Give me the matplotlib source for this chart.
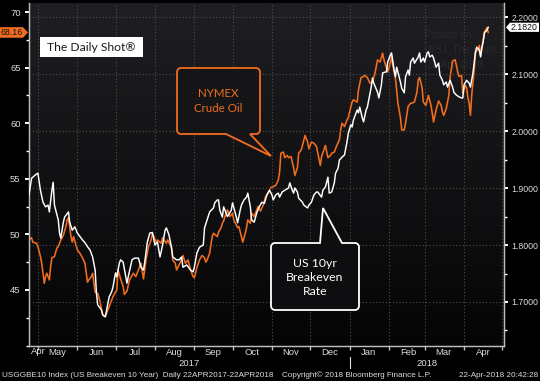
import numpy as np
import pandas as pd
import matplotlib
matplotlib.use("Agg")
import matplotlib.pyplot as plt
import matplotlib.transforms as mtransforms
from matplotlib.colors import LinearSegmentedColormap
from matplotlib.path import Path
from matplotlib.patches import PathPatch, Rectangle, Polygon
from matplotlib.lines import Line2D
from matplotlib.ticker import NullFormatter, FormatStrFormatter

plt.rcParams["font.family"] = ["Liberation Sans", "DejaVu Sans"]

START = pd.Timestamp("2017-04-24")

# US 10yr breakeven (right axis): days since START, value
be_days = [0, 2, 5, 7, 9, 11, 13, 15, 16, 18, 19, 20, 23, 24, 25, 27, 28, 31, 32, 34,
           36, 38, 42, 44, 46, 48, 50, 52, 53, 54, 57, 58, 60, 61, 63, 65, 66, 68, 69, 71,
           72, 74, 77, 78, 81, 83, 86, 88, 90, 91, 93, 95, 97, 99, 101, 103, 105, 107, 108, 110,
           112, 113, 116, 118, 120, 121, 124, 127, 129, 130, 132, 134, 137, 138, 140, 142, 145, 146, 148, 149,
           150, 152, 153, 156, 159, 160, 163, 164, 166, 167, 169, 171, 172, 174, 175, 177, 179, 181, 183, 185,
           187, 189, 191, 192, 194, 196, 197, 199, 201, 204, 205, 207, 208, 209, 211, 212, 215, 216, 219, 220,
           222, 224, 226, 227, 230, 231, 233, 235, 236, 238, 240, 241, 243, 244, 246, 248, 250, 251, 253, 254,
           255, 258, 259, 260, 262, 263, 265, 266, 269, 270, 271, 274, 275, 277, 278, 281, 282, 284, 285, 287,
           288, 289, 292, 293, 295, 296, 298, 299, 300, 302, 303, 306, 307, 308, 310, 311, 313, 314, 315, 317,
           318, 320, 322, 323, 325, 326, 328, 329, 331, 333, 334, 336, 338, 340, 341, 342, 344, 346, 347, 349,
           351, 352, 354, 355, 356, 357, 358, 360, 361]
be_vals = [1.888, 1.917, 1.923, 1.926, 1.896, 1.875, 1.867, 1.870, 1.858, 1.896, 1.910, 1.870, 1.844, 1.821, 1.812, 1.840, 1.849, 1.858, 1.840, 1.826,
           1.832, 1.821, 1.809, 1.804, 1.797, 1.791, 1.779, 1.756, 1.716, 1.695, 1.686, 1.677, 1.674, 1.686, 1.709, 1.718, 1.726, 1.751, 1.744, 1.768,
           1.774, 1.770, 1.733, 1.744, 1.774, 1.777, 1.777, 1.761, 1.756, 1.770, 1.805, 1.821, 1.822, 1.800, 1.805, 1.779, 1.800, 1.826, 1.830, 1.818,
           1.796, 1.779, 1.774, 1.774, 1.779, 1.761, 1.765, 1.756, 1.753, 1.761, 1.786, 1.796, 1.800, 1.830, 1.844, 1.858, 1.865, 1.874, 1.879, 1.879,
           1.861, 1.849, 1.867, 1.850, 1.861, 1.874, 1.849, 1.839, 1.861, 1.870, 1.879, 1.884, 1.891, 1.867, 1.844, 1.840, 1.856, 1.867, 1.875, 1.873,
           1.888, 1.896, 1.888, 1.879, 1.888, 1.891, 1.884, 1.893, 1.896, 1.900, 1.909, 1.896, 1.891, 1.900, 1.893, 1.882, 1.875, 1.870, 1.865, 1.870,
           1.875, 1.888, 1.893, 1.893, 1.884, 1.896, 1.902, 1.919, 1.891, 1.893, 1.909, 1.926, 1.935, 1.949, 1.954, 1.958, 1.981, 1.996, 2.011, 2.007,
           2.019, 2.037, 2.032, 2.042, 2.023, 2.016, 2.037, 2.042, 2.077, 2.093, 2.084, 2.068, 2.058, 2.081, 2.102, 2.104, 2.121, 2.133, 2.137, 2.107,
           2.095, 2.112, 2.086, 2.075, 2.067, 2.095, 2.107, 2.098, 2.121, 2.128, 2.119, 2.130, 2.137, 2.121, 2.128, 2.121, 2.137, 2.139, 2.130, 2.133,
           2.128, 2.112, 2.119, 2.098, 2.089, 2.081, 2.086, 2.077, 2.089, 2.077, 2.068, 2.063, 2.060, 2.058, 2.058, 2.081, 2.089, 2.084, 2.077, 2.102,
           2.139, 2.147, 2.142, 2.130, 2.146, 2.156, 2.172, 2.177, 2.182]

# NYMEX crude oil (left axis): days since START, value
oil_days = [0, 2, 3, 6, 7, 9, 10, 12, 13, 14, 16, 17, 18, 20, 22, 23, 25, 27, 29, 30,
            31, 33, 34, 35, 38, 40, 42, 44, 46, 47, 49, 50, 52, 54, 56, 57, 58, 60, 62, 64,
            66, 69, 70, 72, 74, 75, 77, 79, 82, 84, 86, 88, 90, 92, 94, 96, 97, 100, 101, 104,
            105, 108, 109, 112, 113, 115, 116, 119, 121, 123, 125, 127, 129, 130, 132, 134, 136, 138, 139, 140,
            142, 144, 145, 148, 149, 151, 152, 153, 154, 156, 158, 160, 161, 164, 165, 167, 168, 170, 171, 172,
            174, 175, 177, 179, 180, 182, 184, 186, 188, 190, 192, 194, 196, 197, 198, 200, 201, 203, 204, 206,
            208, 209, 211, 212, 214, 215, 217, 219, 220, 222, 224, 226, 229, 230, 233, 235, 237, 238, 240, 242,
            244, 245, 246, 248, 250, 251, 252, 254, 255, 258, 259, 261, 263, 264, 266, 268, 270, 272, 274, 276,
            278, 279, 281, 282, 284, 285, 286, 288, 289, 290, 292, 293, 295, 296, 298, 300, 301, 303, 305, 306,
            307, 309, 310, 312, 314, 316, 317, 318, 320, 322, 324, 325, 326, 328, 329, 330, 331, 333, 335, 336,
            337, 338, 340, 341, 343, 344, 345, 346, 347, 348, 350, 351, 353, 354, 355, 356, 358, 360, 361]
oil_vals = [49.5, 49.7, 49.3, 49.2, 48.9, 48.0, 47.4, 45.6, 46.2, 46.5, 45.9, 47.1, 47.9, 48.0, 48.8, 48.9, 49.5, 49.9, 50.7, 51.3,
            51.5, 49.8, 49.3, 49.8, 48.6, 48.3, 47.9, 47.4, 45.7, 45.9, 46.2, 46.5, 44.8, 44.7, 43.9, 43.2, 42.75, 42.6, 43.2, 43.8,
            44.4, 45.0, 46.8, 46.0, 45.3, 44.6, 44.9, 45.9, 46.5, 46.2, 46.8, 47.4, 46.0, 47.7, 48.9, 49.5, 50.1, 49.3, 49.5, 49.2,
            49.7, 49.2, 49.5, 48.8, 47.7, 47.4, 46.8, 47.5, 48.1, 47.4, 47.7, 46.8, 46.2, 46.1, 47.0, 47.7, 48.1, 47.9, 47.5, 47.7,
            48.3, 49.8, 50.1, 49.8, 50.2, 50.6, 51.0, 51.2, 51.6, 52.2, 51.6, 51.9, 51.3, 50.6, 50.7, 49.8, 49.3, 50.1, 50.6, 51.3,
            51.0, 51.9, 51.6, 52.2, 52.5, 52.1, 52.6, 53.4, 53.7, 54.2, 54.3, 54.4, 54.9, 55.6, 57.3, 57.4, 56.9, 57.1, 56.9, 57.0,
            56.0, 55.3, 56.0, 57.3, 57.6, 58.0, 58.9, 58.3, 57.7, 58.3, 58.2, 57.9, 56.2, 57.0, 58.0, 56.9, 57.1, 57.3, 57.4, 58.0,
            58.5, 59.4, 60.0, 59.7, 60.3, 60.5, 61.0, 61.9, 62.1, 61.9, 63.0, 64.1, 64.2, 64.3, 64.1, 63.6, 63.7, 64.5, 65.7, 65.5,
            66.3, 65.7, 65.0, 64.6, 65.4, 66.0, 65.2, 64.1, 63.0, 61.8, 60.5, 59.4, 59.4, 60.0, 61.5, 61.8, 61.8, 61.9, 62.8, 63.9,
            64.1, 63.2, 61.9, 61.6, 62.5, 61.6, 60.9, 60.1, 61.2, 62.0, 61.6, 61.0, 60.7, 61.3, 61.9, 62.5, 64.1, 65.6, 65.7, 65.2,
            64.6, 64.2, 64.3, 62.7, 63.4, 63.2, 62.3, 61.8, 60.7, 62.5, 64.8, 66.4, 66.6, 67.0, 66.1, 66.8, 68.2, 68.6, 68.16]

month_starts = ["2017-05-01", "2017-06-01", "2017-07-01", "2017-08-01", "2017-09-01", "2017-10-01",
                "2017-11-01", "2017-12-01", "2018-01-01", "2018-02-01", "2018-03-01", "2018-04-01",
                "2018-05-01"]
month_mids = ["2017-05-16", "2017-06-16", "2017-07-16", "2017-08-16", "2017-09-16", "2017-10-16",
              "2017-11-16", "2017-12-16", "2018-01-16", "2018-02-16", "2018-03-16", "2018-04-16"]
month_labels = ["May", "Jun", "Jul", "Aug", "Sep", "Oct", "Nov", "Dec", "Jan", "Feb", "Mar", "Apr"]
oil_ticks = [45, 50, 55, 60, 65, 70]
be_ticks = [1.7, 1.8, 1.9, 2.0, 2.1, 2.2]

ORANGE = "#f26d1f"
TEXT = "#dcdcdc"
GRID = "#4f4f4f"
SPINE = "#bdbdbd"
TICK_FS = 6.3    # right-axis labels and value tags (tight space)
AXIS_FS = 6.8    # months, years, left-axis labels
FOOT_FS = 5.9
W, H = 540, 381


def px(x, y):
    """figure pixel (y down) -> figure fraction"""
    return x / W, 1 - y / H


def callout(fig, x0, y0, x1, y1, wedge, edge, ec, fc, r=4):
    def arc(cx, cy, a0, a1):
        t = np.radians(np.linspace(a0, a1, 6))
        return [(cx + r * np.cos(a), cy + r * np.sin(a)) for a in t]
    pts = arc(x0 + r, y0 + r, 180, 270)
    if edge == "top":
        pts += wedge
    pts += arc(x1 - r, y0 + r, 270, 360)
    pts += arc(x1 - r, y1 - r, 0, 90)
    if edge == "bottom":
        pts += wedge
    pts += arc(x0 + r, y1 - r, 90, 180)
    verts = [px(x, y) for x, y in pts]
    verts.append(verts[0])
    codes = [Path.MOVETO] + [Path.LINETO] * (len(verts) - 2) + [Path.CLOSEPOLY]
    fig.add_artist(PathPatch(Path(verts, codes), transform=fig.transFigure,
                             facecolor=fc, edgecolor=ec, lw=1.3, zorder=5))


fig = plt.figure(figsize=(W / 100, H / 100), dpi=100, facecolor="black")
ax = fig.add_axes([29 / W, 1 - 346 / H, 475 / W, 343 / H])
ax.set_facecolor("black")

bg = LinearSegmentedColormap.from_list("bg", ["#050506", "#1f1f23"])
ax.imshow(np.linspace(0, 1, 256).reshape(-1, 1), extent=[0, 1, 0, 1], transform=ax.transAxes,
          cmap=bg, aspect="auto", origin="lower", zorder=0)

oil_dates = START + pd.to_timedelta(oil_days, unit="D")
be_dates = START + pd.to_timedelta(be_days, unit="D")

ax.plot(oil_dates, oil_vals, color=ORANGE, lw=1.15, zorder=3)
ax2 = ax.twinx()
ax2.plot(be_dates, be_vals, color="white", lw=1.05, zorder=3)

ax.set_xlim(START, START + pd.Timedelta(days=373.4))
ax.set_ylim(39.96, 70.81)
ax2.set_ylim(1.6228, 2.2246)

# x axis: month starts as ticks/grid, labels at mid-month
ax.set_xticks(pd.to_datetime(month_starts))
ax.xaxis.set_major_formatter(NullFormatter())
ax.set_xticks(pd.to_datetime(month_mids), labels=month_labels, minor=True)
ax.tick_params(axis="x", which="major", length=3, width=1, color=SPINE, direction="out")
ax.tick_params(axis="x", which="minor", length=0, pad=1.2, labelsize=AXIS_FS, labelcolor=TEXT)
ax.grid(axis="x", which="major", color=GRID, lw=0.8, linestyle=(0, (1, 2)))
ax.set_axisbelow(True)

ax.set_yticks(oil_ticks)
ax.set_yticks([40, 42.5, 47.5, 52.5, 57.5, 62.5, 67.5], minor=True)
ax.tick_params(axis="y", which="major", length=3, width=1.4, color="white", labelsize=AXIS_FS,
               labelcolor=TEXT, pad=3)
ax.tick_params(axis="y", which="minor", length=2, width=1, color="white")

ax2.set_yticks(be_ticks)
ax2.set_yticks([1.65, 1.75, 1.85, 1.95, 2.05, 2.15], minor=True)
ax2.yaxis.set_major_formatter(FormatStrFormatter("%.4f"))
ax2.tick_params(axis="y", which="major", length=3, width=1.4, color="white", labelsize=TICK_FS,
                labelcolor=TEXT, pad=2.5)
ax2.tick_params(axis="y", which="minor", length=2, width=1, color="white")
ax2.grid(axis="y", which="major", color=GRID, lw=0.8, linestyle=(0, (1, 2)))

for a in (ax, ax2):
    a.spines["top"].set_visible(False)
    for s in ("left", "right", "bottom"):
        a.spines[s].set_color(SPINE)
        a.spines[s].set_linewidth(0.9)

# first partial month label and year labels
xfig = mtransforms.blended_transform_factory(ax.transData, fig.transFigure)
ax.text(START + pd.Timedelta(days=1.5), px(0, 352)[1], "Apr", transform=xfig, ha="left",
        va="center", fontsize=AXIS_FS, color=TEXT)
ax.text(START + (pd.Timestamp("2018-01-01") - START) / 2, px(0, 364)[1], "2017", transform=xfig,
        ha="center", va="center", fontsize=AXIS_FS, color=TEXT)
ax.text(pd.Timestamp("2018-01-01") + pd.Timedelta(days=60.7), px(0, 364)[1], "2018", transform=xfig,
        ha="center", va="center", fontsize=AXIS_FS, color=TEXT)
ax.add_line(Line2D([pd.Timestamp("2018-01-01")] * 2, [px(0, 357)[1], px(0, 368)[1]],
                   transform=xfig, color=TEXT, lw=0.8, clip_on=False))

# faint watermark
ax.text(px(425, 0)[0], px(0, 50)[1], "Posted on\nWSJ: The Daily Shot\n22-Apr-2018", transform=fig.transFigure,
        ha="left", va="center", fontsize=7.5, color="#29292c", linespacing=1.6, clip_on=True, zorder=1)

# last value tags
oil_last, be_last = oil_vals[-1], be_vals[-1]
ly = mtransforms.blended_transform_factory(fig.transFigure, ax.transData)
hh = 5.3 / 11.12
ax.add_patch(Polygon([(0, oil_last - hh), (23 / W, oil_last - hh), (28 / W, oil_last),
                      (23 / W, oil_last + hh), (0, oil_last + hh)], closed=True, transform=ly,
                     facecolor=ORANGE, edgecolor="none", clip_on=False, zorder=6))
ax.text(12 / W, oil_last, f"{oil_last:.2f}", transform=ly, ha="center", va="center",
        fontsize=TICK_FS, color="#111111", zorder=7, clip_on=False)
ry = mtransforms.blended_transform_factory(fig.transFigure, ax2.transData)
hb = 4.6 / 570
ax2.add_patch(Polygon([(506 / W, be_last), (510 / W, be_last + hb), (539 / W, be_last + hb),
                       (539 / W, be_last - hb), (510 / W, be_last - hb)], closed=True, transform=ry,
                      facecolor="white", edgecolor="none", clip_on=False, zorder=6))
ax2.text(524.5 / W, be_last, f"{be_last:.4f}", transform=ry, ha="center", va="center",
         fontsize=TICK_FS, color="#111111", zorder=7, clip_on=False)

# The Daily Shot box
x0, y0 = px(40, 57)
x1, y1 = px(143, 37)
fig.add_artist(Rectangle((x0, y0), x1 - x0, y1 - y0, transform=fig.transFigure,
                         facecolor="white", edgecolor="none", zorder=5))
fig.text(*px(91.5, 47.5), "The Daily Shot\u00ae", ha="center", va="center", fontsize=8.7,
         family=["Lato", "DejaVu Sans"], color="#1a1a1a", zorder=6)

# callouts
callout(fig, 177, 68, 260, 134, [(250, 134), (271, 156), (226, 134)], "bottom", ORANGE, "#151518")
fig.text(*px(218.5, 101), "NYMEX\nCrude Oil", ha="center", va="center", fontsize=8.3,
         family=["Lato", "DejaVu Sans"], color=ORANGE, linespacing=1.55, zorder=6)
callout(fig, 271, 243, 359, 310, [(320, 243), (323, 208), (342, 243)], "top", "white", "#0e0e10")
fig.text(*px(315, 277.5), "US 10yr\nBreakeven\nRate", ha="center", va="center", fontsize=8.8,
         family=["Lato", "DejaVu Sans"], color="white", linespacing=1.3, zorder=6)

# footer
fig.text(*px(2, 375.5), "USGGBE10 Index (US Breakeven 10 Year)  Daily 22APR2017-22APR2018",
         ha="left", va="center", fontsize=FOOT_FS, color=TEXT)
fig.text(*px(357, 375.5), "Copyright\u00a9 2018 Bloomberg Finance L.P.", ha="center", va="center",
         fontsize=FOOT_FS, color=TEXT)
fig.text(*px(538, 375.5), "22-Apr-2018 20:42:28", ha="right", va="center", fontsize=FOOT_FS, color=TEXT)

fig.savefig("out.png", dpi=100, facecolor="black")
